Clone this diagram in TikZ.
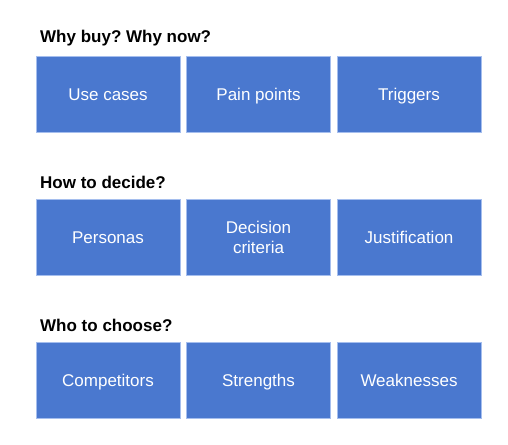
\documentclass[tikz,border=0pt]{standalone}
\usepackage{fontspec}
\setmainfont{Liberation Sans}
\usepackage{xcolor}
\usetikzlibrary{positioning}
\definecolor{tileblue}{RGB}{74,120,207}
\definecolor{tileedge}{RGB}{165,190,238}
\frenchspacing

\begin{document}
\begin{tikzpicture}[x=1pt, y=-1pt]
\tikzstyle{tile} = [rectangle, draw=tileedge, line width=0.8pt, fill=tileblue, minimum width=144pt, minimum height=76pt, inner sep=0pt, outer sep=0pt, text=white, font=\fontsize{17}{20}\selectfont, align=center, text height=12.2pt, text depth=0pt]
\tikzstyle{head} = [anchor=base west, inner sep=0pt, font=\fontsize{17}{20}\selectfont\bfseries]
\useasboundingbox (0,0) rectangle (508,444);

\node (h1) [head] at (40,42) {Why buy? Why now?};
\node (use) [tile, anchor=north west] at (36,56) {Use cases};
\node (pain) [tile, right=6.5pt of use] {Pain points};
\node (trig) [tile, right=6.5pt of pain] {Triggers};

\node (h2) [head] at (40,188) {How to decide?};
\node (pers) [tile, below=67pt of use] {Personas};
\node (crit) [tile, right=6.5pt of pers, text height=, text depth=] {Decision\\criteria};
\node (just) [tile, right=6.5pt of crit] {Justification};

\node (h3) [head] at (40,331) {Who to choose?};
\node (comp) [tile, below=67pt of pers] {Competitors};
\node (str) [tile, right=6.5pt of comp] {Strengths};
\node (weak) [tile, right=6.5pt of str] {Weaknesses};

\end{tikzpicture}
\end{document}
